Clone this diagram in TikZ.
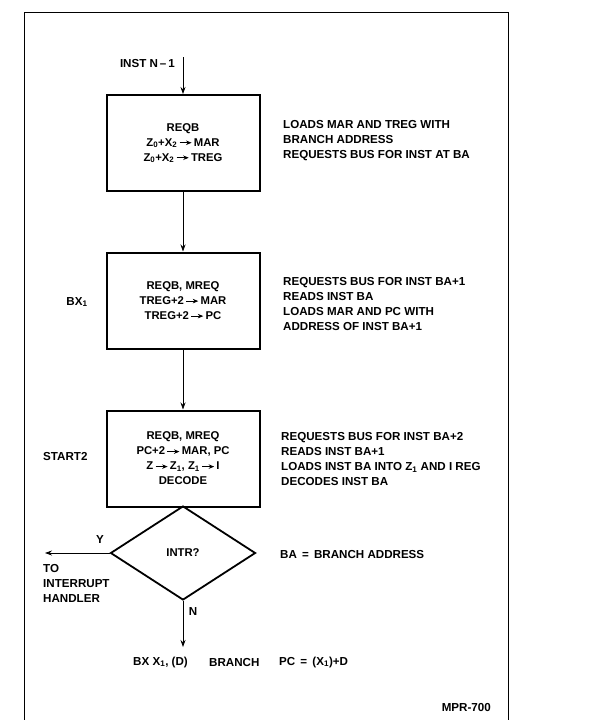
\documentclass[tikz,border=0pt]{standalone}
\usepackage{fontspec}
\setmainfont{Liberation Sans}
\usetikzlibrary{shapes.geometric,arrows.meta}
\newcommand\tto{\,\tikz[baseline=-0.55ex]\draw[line width=0.9pt,-{Stealth[length=5.5pt,width=4.5pt]}](0,0)--(12pt,0);\,}
\begin{document}
\begin{tikzpicture}[x=1pt,y=-1pt,
  txt/.style={font=\bfseries\fontsize{11.6}{15}\selectfont,inner sep=0pt},
  procbox/.style={draw,line width=2pt,minimum width=153pt,minimum height=96pt,align=center,inner sep=0pt,font=\bfseries\fontsize{11.3}{15}\selectfont},
  decbox/.style={draw,diamond,line width=1.8pt,minimum width=145pt,minimum height=94pt,inner sep=0pt,font=\bfseries\fontsize{11.3}{15}\selectfont},
  flow/.style={line width=0.8pt,-{Stealth[length=7pt,width=5pt]}},
  note/.style={txt,align=left,anchor=west}]
\useasboundingbox (0,0) rectangle (592,720);
\fill[white] (0,0) rectangle (592,720);
% frame
\draw[line width=0.7pt] (24,720) -- (24,12) -- (508,12) -- (508,720);

\node[procbox] (b1) at (183,143) {REQB\\Z\textsubscript{0}+X\textsubscript{2}\tto MAR\\Z\textsubscript{0}+X\textsubscript{2}\tto TREG};
\node[procbox] (b2) at (183,300.5) {REQB, MREQ\\TREG+2\tto MAR\\TREG+2\tto PC};
\node[procbox] (b3) at (183,458.5) {REQB, MREQ\\PC+2\tto MAR, PC\\Z\tto Z\textsubscript{1}, Z\textsubscript{1}\tto I\\DECODE};
\node[decbox] (d) at (183,553) {INTR?};

\coordinate (s) at (183,57);
\coordinate (int) at (45,553);
\coordinate (bx) at (183,647);

\draw[flow] (s) -- (b1.north);
\draw[flow] (b1.south) -- (b2.north);
\draw[flow] (b2.south) -- (b3.north);
\draw[flow] (d.west) -- (int);
\draw[flow] (d.south) -- (bx);

\node[txt,anchor=east] (inst) at (175,64) {INST N\,--\,1};
\node[txt] (bxl) at (77,302) {BX\textsubscript{1}};
\node[txt,anchor=west] (st) at (43,457) {START2};
\node[txt] (y) at (100,540) {Y};
\node[txt] (n) at (193,612) {N};
\node[note,anchor=north west] (toi) at (43,564) {TO\\INTERRUPT\\HANDLER};

\node[note] (n1) at (283,140.5) {LOADS MAR AND TREG WITH\\BRANCH ADDRESS\\REQUESTS BUS FOR INST AT BA};
\node[note] (n2) at (283,304.5) {REQUESTS BUS FOR INST BA+1\\READS INST BA\\LOADS MAR AND PC WITH\\ADDRESS OF INST BA+1};
\node[note] (n3) at (281,459.5) {REQUESTS BUS FOR INST BA+2\\READS INST BA+1\\LOADS INST BA INTO Z\textsubscript{1} AND I REG\\DECODES INST BA};
\node[note] (ba) at (280,554) {BA \,=\, BRANCH ADDRESS};

\node[txt,anchor=west] (bxx) at (133,662) {BX X\textsubscript{1}, (D)};
\node[txt,anchor=west] (br) at (209,662) {BRANCH};
\node[txt,anchor=west] (pc) at (279,662) {PC \,=\, (X\textsubscript{1})+D};
\node[txt,anchor=east] (mpr) at (491,707) {MPR-700};
\end{tikzpicture}
\end{document}
